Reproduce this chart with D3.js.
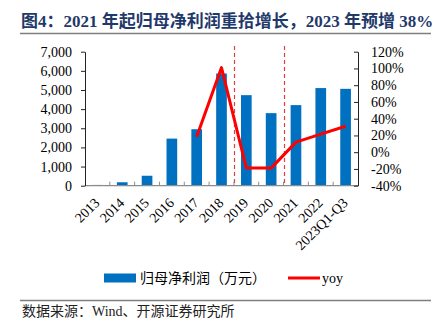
<!DOCTYPE html>
<html><head><meta charset="utf-8">
<script src="https://cdn.jsdelivr.net/npm/d3@7"></script>
<style>
html,body{margin:0;padding:0;background:#fff;}
svg{display:block;}
</style></head>
<body>
<svg id="chart" width="435" height="323"></svg>
<script>
const categories = ["2013","2014","2015","2016","2017","2018","2019","2020","2021","2022","2023Q1-Q3"];
const profit = [40, 180, 520, 2460, 2950, 5860, 4730, 3790, 4210, 5100, 5060];
const yoy = [null, null, null, null, 18.5, 101, -19, -19, 12, 21.5, 31];
const leftTicks = [0,1000,2000,3000,4000,5000,6000,7000];
const rightTicks = [-40,-20,0,20,40,60,80,100,120];
const dividers = [["2018","2019"],["2020","2021"]];
const titleText = "图4：2021 年起归母净利润重拾增长，2023 年预增 38%";
const sourceText = "数据来源：Wind、开源证券研究所";
const legendBar = "归母净利润（万元）";
const legendLine = "yoy";

const svg = d3.select("#chart");
const serif = "'Liberation Serif','Times New Roman',serif";
const cjk = "'Liberation Serif','Noto Sans CJK SC',serif";
const L = 85, R = 358, T = 51.7, B = 185.7;

const x = d3.scaleBand().domain(categories).range([L, R]).paddingInner(0.57).paddingOuter(0.285);
const yL = d3.scaleLinear().domain([0, 7000]).range([B, T]);
const yR = d3.scaleLinear().domain([-40, 120]).range([B, T]);

// title
svg.append("text").attr("x", 21).attr("y", 27)
  .attr("font-family", cjk).attr("font-weight", "bold").attr("font-size", 17)
  .attr("fill", "#1F3A6A").text(titleText);
svg.append("line").attr("x1", 20).attr("x2", 431).attr("y1", 33.5).attr("y2", 33.5)
  .attr("stroke", "#7f7f7f").attr("stroke-width", 1.5);

// bars
svg.append("g").selectAll("rect").data(categories).join("rect")
  .attr("x", d => x(d)).attr("width", x.bandwidth())
  .attr("y", (d,i) => yL(profit[i])).attr("height", (d,i) => B - yL(profit[i]))
  .attr("fill", "#0070C0");

// dividers
const step = x.step();
dividers.forEach(([a]) => {
  const xp = Math.round(x(a) + x.bandwidth()/2 + step/2) + 0.5;
  svg.append("line").attr("x1", xp).attr("x2", xp).attr("y1", 46).attr("y2", B)
    .attr("stroke", "#E0403F").attr("stroke-width", 1.2).attr("stroke-dasharray", "4,3");
});

// bottom axis
const gx = svg.append("g").attr("transform", `translate(0,${B})`);
gx.append("line").attr("x1", L).attr("x2", R).attr("stroke", "#8c8c8c").attr("stroke-width", 1.2);
gx.selectAll("line.tk").data(d3.range(1, categories.length)).join("line").attr("class","tk")
  .attr("x1", i => L + i*step).attr("x2", i => L + i*step).attr("y1", 0).attr("y2", -4)
  .attr("stroke", "#8c8c8c");
gx.selectAll("text").data(categories).join("text")
  .attr("transform", d => `translate(${x(d) + x.bandwidth()/2 + 3},${18}) rotate(-45)`)
  .attr("text-anchor", "end").attr("font-family", serif).attr("font-size", 14)
  .attr("fill", "#000").text(d => d);

// left axis
const gl = svg.append("g").attr("transform", `translate(${L},0)`)
  .call(d3.axisLeft(yL).tickValues(leftTicks).tickFormat(d3.format(",")).tickSize(4).tickSizeOuter(0));
gl.select(".domain").attr("stroke", "#222");
gl.selectAll(".tick line").attr("stroke", "#222");
gl.selectAll("text").attr("font-family", serif).attr("font-size", 14).attr("fill", "#000").attr("x", -13);

// right axis
const gr = svg.append("g").attr("transform", `translate(${R},0)`)
  .call(d3.axisRight(yR).tickValues(rightTicks).tickFormat(d => d + "%").tickSize(-4).tickSizeOuter(0));
gr.select(".domain").attr("stroke", "#222");
gr.selectAll(".tick line").attr("stroke", "#222");
gr.selectAll("text").attr("font-family", serif).attr("font-size", 14).attr("fill", "#000").attr("x", 13);

// yoy line
const line = d3.line().defined(d => d[1] != null)
  .x(d => x(d[0]) + x.bandwidth()/2).y(d => yR(d[1]));
svg.append("path").datum(categories.map((c,i) => [c, yoy[i]]))
  .attr("d", line).attr("fill", "none").attr("stroke", "#FF0000").attr("stroke-width", 3)
  .attr("stroke-linejoin", "round");

// legend
svg.append("rect").attr("x", 104).attr("y", 273.5).attr("width", 32).attr("height", 9).attr("fill", "#0070C0");
svg.append("text").attr("x", 140).attr("y", 283).attr("font-family", cjk).attr("font-size", 14).text(legendBar);
svg.append("line").attr("x1", 288).attr("x2", 320).attr("y1", 278).attr("y2", 278)
  .attr("stroke", "#FF0000").attr("stroke-width", 3);
svg.append("text").attr("x", 322).attr("y", 283).attr("font-family", serif).attr("font-size", 14).text(legendLine);

// source
svg.append("line").attr("x1", 20).attr("x2", 431).attr("y1", 300.5).attr("y2", 300.5)
  .attr("stroke", "#7f7f7f").attr("stroke-width", 1.5);
svg.append("text").attr("x", 22).attr("y", 316).attr("font-family", cjk).attr("font-size", 14)
  .attr("fill", "#222").text(sourceText);
</script>
</body></html>
